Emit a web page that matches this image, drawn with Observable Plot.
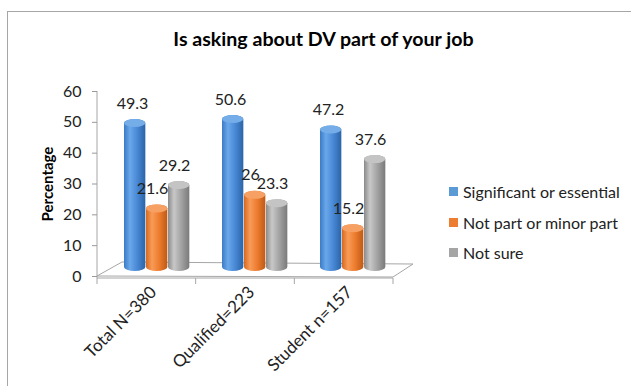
<!DOCTYPE html>
<html>
<head>
<meta charset="utf-8">
<script src="https://cdn.jsdelivr.net/npm/d3@7"></script>
<script src="https://cdn.jsdelivr.net/npm/@observablehq/plot@0.6"></script>
<style>
  body { margin: 0; background: #fff; }
  #wrap { position: relative; width: 631px; height: 386px; overflow: hidden; font-family: Lato, sans-serif; background: #fff; }
  #border { position: absolute; left: 7px; top: 11px; width: 700px; height: 500px; border: 1px solid #a6a6a6; box-sizing: border-box; }
  #chart { position: absolute; left: 0; top: 0; }
  #title { position: absolute; left: 0; width: 647px; top: 27px; text-align: center; font-weight: bold; font-size: 19.6px; color: #000; white-space: nowrap; }
  .item { position: absolute; left: 449px; height: 20px; font-size: 16px; color: #222; white-space: nowrap; }
  .sw { position: absolute; left: 0; top: 5px; width: 9px; height: 9px; }
  .lab { position: absolute; left: 14px; top: 0; line-height: 20px; }
</style>
</head>
<body>
<div id="wrap">
  <div id="border"></div>
  <div id="chart"></div>
  <div id="title"></div>
  <div id="legend"></div>
</div>
<script>
// ---- data ----
const title = "Is asking about DV part of your job";
const yLabel = "Percentage";
const categories = ["Total N=380", "Qualified=223", "Student n=157"];
const series = ["Significant or essential", "Not part or minor part", "Not sure"];
const significant = [49.3, 50.6, 47.2];
const notPart = [21.6, 26, 15.2];
const notSure = [29.2, 23.3, 37.6];
const yTicks = [0, 10, 20, 30, 40, 50, 60];

// ---- styles ----
const colors = ["#5B9BD5", "#ED7D31", "#A5A5A5"];
const gradStops = [
  ["#3b7bc6", "#6aa8ea", "#4a8ad6", "#2b64a8"],
  ["#d8681e", "#f89c58", "#ee7d30", "#bf5a14"],
  ["#8a8a8a", "#c8c8c8", "#a5a5a5", "#7a7a7a"]
];
const capColors = ["#74ade8", "#f6a063", "#c4c4c4"];

const values = [significant, notPart, notSure];
const rows = categories.flatMap((c, i) => values.map((v, s) => ({category: c, series: series[s], s, value: v[i]})));

const W = 631, H = 386;
const mL = 97, mR = 631 - 393, mT = 91, mB = 386 - 276;
const bw = (W - mL - mR) / categories.length;
const barW = 22;
const insetL = [26, 48, 70];
const labelDx = [-15, 5, 27];

const marks = [];
series.forEach((name, s) => {
  const d = rows.filter(r => r.s === s);
  marks.push(Plot.barY(d, {
    x: "category", y: "value", fill: `url(#grad${s})`,
    insetLeft: insetL[s], insetRight: bw - insetL[s] - barW, rx: barW / 2, ry: 4, dy: -5
  }));
  marks.push(Plot.barY(d, {
    x: "category", y1: "value", y2: "value", fill: capColors[s],
    insetLeft: insetL[s], insetRight: bw - insetL[s] - barW, insetTop: -4, insetBottom: -4,
    rx: barW / 2, ry: 4, dy: -1
  }));
});
series.forEach((name, s) => {
  marks.push(Plot.text(rows.filter(r => r.s === s), {
    x: "category", y: "value", text: d => String(d.value), dx: labelDx[s], dy: -21,
    fontSize: 16, fill: "#222"
  }));
});
marks.push(Plot.axisY({ticks: yTicks, tickSize: 5, tickPadding: 11, fontSize: 16, fill: "#222", stroke: "#999", label: null}));
marks.push(Plot.axisX({tickSize: 0, tickRotate: -45, tickPadding: 10, fontSize: 17, fill: "#222", label: null, dx: 6, dy: 3}));
marks.push(Plot.text([yLabel], {frameAnchor: "left", textAnchor: "middle", rotate: -90, dx: -49, fontWeight: "bold", fontSize: 15, fill: "#000"}));

const plot = Plot.plot({
  width: W, height: H,
  marginLeft: mL, marginRight: mR, marginTop: mT, marginBottom: mB,
  style: {background: "transparent", fontFamily: "Lato, sans-serif", overflow: "visible"},
  x: {domain: categories, padding: 0},
  y: {domain: [0, 60]},
  marks
});

// gradients for cylinder shading
const svg = d3.select(plot);
const defs = svg.insert("defs", ":first-child");
gradStops.forEach((stops, s) => {
  const g = defs.append("linearGradient").attr("id", `grad${s}`).attr("x1", 0).attr("x2", 1).attr("y1", 0).attr("y2", 0);
  [0, 0.28, 0.6, 1].forEach((o, k) => g.append("stop").attr("offset", o).attr("stop-color", stops[k]));
});

// 3D floor and axis lines, positioned from the plot's own scales
const xs = plot.scale("x"), ys = plot.scale("y");
const x0 = xs.range[0], x1 = xs.range[1];
const y0 = ys.apply(0), yTop = ys.apply(yTicks[yTicks.length - 1]);
const deco = svg.insert("g", "g").attr("fill", "none").attr("stroke", "#a6a6a6").attr("stroke-width", 1);
deco.append("path").attr("d", `M${x0},${y0}L${x1},${y0 + 1}L${x1 + 20},${y0 - 12}L${x0 + 25},${y0 - 14}Z`);
deco.append("path").attr("d", `M${x0},${yTop}V${y0 + 2}`);
deco.append("path").attr("d", `M${x0},${y0 + 2}H${x1}`);
for (let i = 0; i <= categories.length; i++) {
  const xx = x0 + i * (x1 - x0) / categories.length;
  deco.append("path").attr("d", `M${xx},${y0 + 2}V${y0 + 8}`);
}

document.getElementById("chart").appendChild(plot);
document.getElementById("title").textContent = title;

const legend = document.getElementById("legend");
series.forEach((name, s) => {
  const it = document.createElement("div");
  it.className = "item";
  it.style.top = (182 + s * 30.5) + "px";
  it.innerHTML = `<div class="sw" style="background:${colors[s]}"></div><div class="lab"></div>`;
  it.querySelector(".lab").textContent = name;
  legend.appendChild(it);
});
</script>
</body>
</html>
